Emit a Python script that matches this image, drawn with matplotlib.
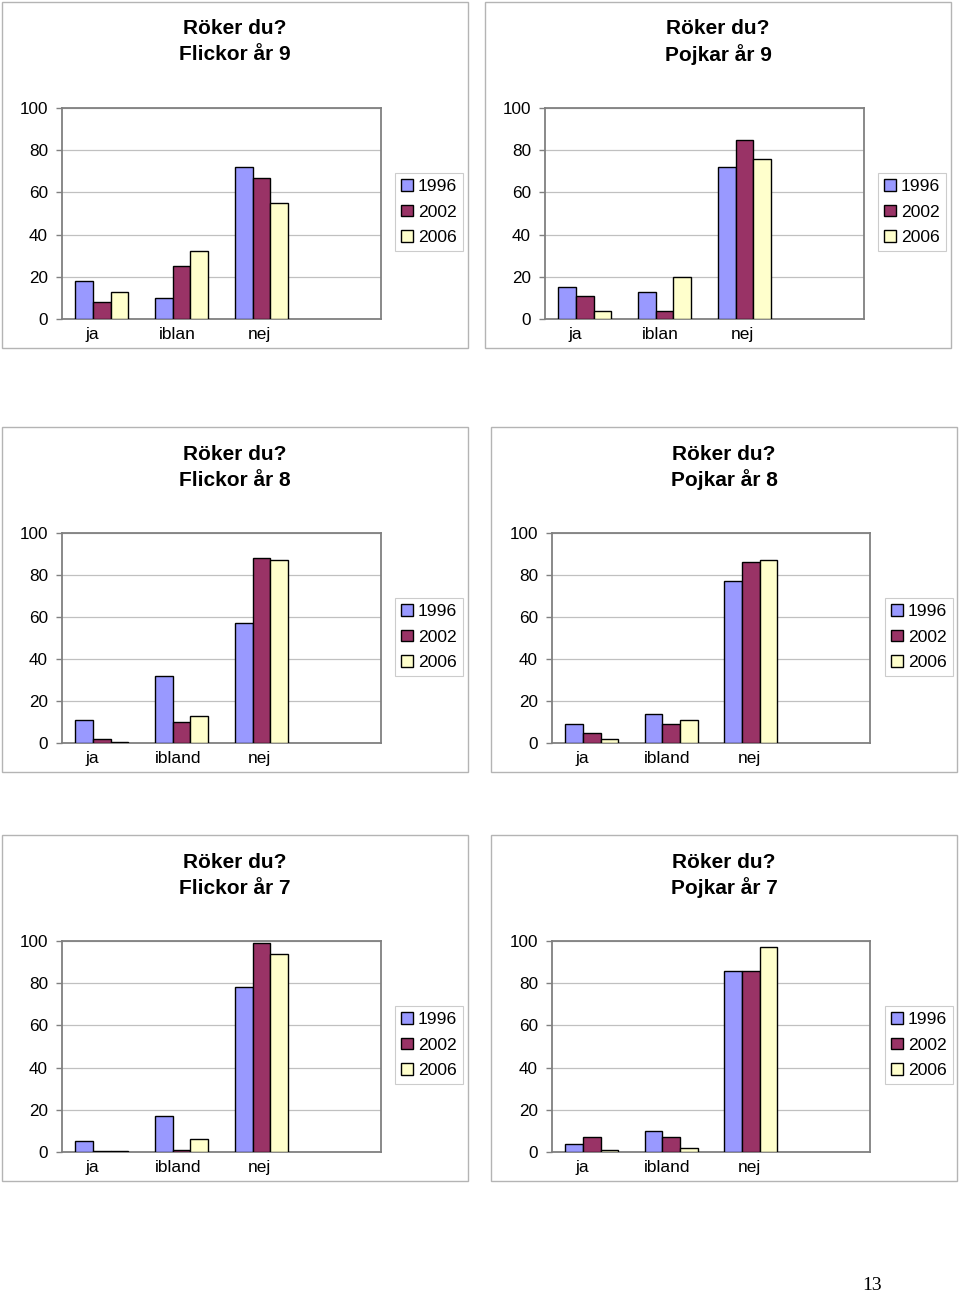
import matplotlib
matplotlib.use("Agg")
import matplotlib.pyplot as plt
from matplotlib.patches import Rectangle, Patch

W, H = 960, 1294
plt.rcParams['font.family'] = ['Liberation Sans', 'DejaVu Sans']

# Data (percent)
years = ['1996', '2002', '2006']
colors = ['#9999FF', '#993366', '#FFFFCC']

cats_9 = ['ja', 'iblan', 'nej']
cats_87 = ['ja', 'ibland', 'nej']

flickor_9 = [[18, 10, 72], [8, 25, 67], [13, 32, 55]]
pojkar_9 = [[15, 13, 72], [11, 4, 85], [4, 20, 76]]
flickor_8 = [[11, 32, 57], [2, 10, 88], [0.3, 13, 87]]
pojkar_8 = [[9, 14, 77], [5, 9, 86], [2, 11, 87]]
flickor_7 = [[5, 17, 78], [0.3, 1, 99], [0.3, 6, 94]]
pojkar_7 = [[4, 10, 86], [7, 7, 86], [1, 2, 97]]

titles = ['Flickor år 9', 'Pojkar år 9', 'Flickor år 8',
          'Pojkar år 8', 'Flickor år 7', 'Pojkar år 7']

# layout in pixels: outer box (x0, y0, x1, y1), plot area, legend top-left
charts = [
    (flickor_9, cats_9, (2, 2, 468, 348), (62, 108, 381, 319), (395, 173)),
    (pojkar_9, cats_9, (485, 2, 951, 348), (545, 108, 864, 319), (878, 173)),
    (flickor_8, cats_87, (2, 427, 468, 772), (62, 533, 381, 743), (395, 598)),
    (pojkar_8, cats_87, (491, 427, 957, 772), (552, 533, 870, 743), (885, 598)),
    (flickor_7, cats_87, (2, 835, 468, 1181), (62, 941, 381, 1152), (395, 1006)),
    (pojkar_7, cats_87, (491, 835, 957, 1181), (552, 941, 870, 1152), (885, 1006)),
]

# excel puts the category labels a bit left of the groups
label_shift = [-0.12, -0.05, -0.02]

fig = plt.figure(figsize=(W / 100, H / 100), dpi=100)


def fig_rect(x0, y0, x1, y1):
    return [x0 / W, 1 - y1 / H, (x1 - x0) / W, (y1 - y0) / H]


bw = 1 / 1.5 / 3  # excel gap width 50%

for (data, cats, box, plot, leg), title in zip(charts, titles):
    bx0, by0, bx1, by1 = box
    fig.patches.append(Rectangle((bx0 / W, 1 - by1 / H), (bx1 - bx0) / W, (by1 - by0) / H,
                                 transform=fig.transFigure, fill=False,
                                 edgecolor='#b4b4b4', linewidth=1.0))
    cx = (bx0 + bx1) / 2 / W
    fig.text(cx, 1 - (by0 + 27) / H, 'Röker du?', ha='center', va='center',
             fontsize=15, fontweight='bold')
    fig.text(cx, 1 - (by0 + 53) / H, title, ha='center', va='center',
             fontsize=15, fontweight='bold')

    ax = fig.add_axes(fig_rect(*plot))
    centers = [0.5, 1.5, 2.5]
    for i, (vals, c, yr) in enumerate(zip(data, colors, years)):
        xs = [x + (i - 1) * bw for x in centers]
        ax.bar(xs, vals, width=bw, color=c, edgecolor='black', linewidth=1.0,
               label=yr, zorder=3)
    ax.set_xlim(0, 4)
    ax.set_ylim(0, 100)
    ax.set_yticks([0, 20, 40, 60, 80, 100])
    ax.set_xticks([x + s for x, s in zip(centers, label_shift)])
    ax.set_xticklabels(cats)
    ax.yaxis.grid(True, color='#c0c0c0', linewidth=0.9, zorder=0)
    ax.set_axisbelow(True)
    for s in ax.spines.values():
        s.set_color('#808080')
        s.set_linewidth(1.3)
    ax.tick_params(axis='y', length=4, width=1, color='#808080', pad=6, labelsize=12.3)
    ax.tick_params(axis='x', length=0, pad=5.5, labelsize=12.5)

    lx, ly = leg
    handles = [Patch(facecolor=c, edgecolor='black', label=yr) for c, yr in zip(colors, years)]
    lg = fig.legend(handles=handles, loc='upper left', bbox_to_anchor=(lx / W, 1 - ly / H),
                    bbox_transform=fig.transFigure, fontsize=12.6, frameon=True, fancybox=False,
                    borderaxespad=0, borderpad=0.35, labelspacing=0.6, handlelength=0.65,
                    handleheight=0.65, handletextpad=0.3)
    lg.get_frame().set_edgecolor('#c0c0c0')
    lg.get_frame().set_linewidth(0.8)

fig.text(872 / W, 1 - 1285 / H, '13', ha='center', va='center', fontsize=14,
         family='Liberation Serif')

fig.savefig('out.png', dpi=100)
